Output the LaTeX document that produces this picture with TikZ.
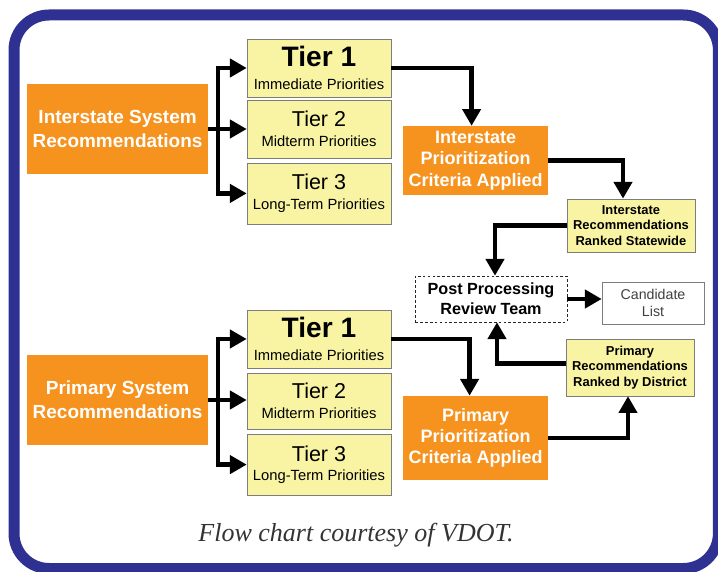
\documentclass[tikz,border=0pt]{standalone}
\usepackage{fontspec}
\setmainfont{Liberation Sans}
\newfontfamily\captionserif{Liberation Serif}
\usetikzlibrary{arrows.meta}
\definecolor{vdotorange}{RGB}{246,146,30}
\definecolor{vdotyellow}{RGB}{249,244,164}
\definecolor{vdotblue}{RGB}{46,49,146}
\definecolor{boxgray}{RGB}{125,125,125}

\begin{document}
\begin{tikzpicture}[
	sysbox/.style={fill=vdotorange,text=white,align=center,inner sep=0pt,minimum width=4.525cm,minimum height=2.25cm,font={\fontsize{13.5}{17}\selectfont\bfseries}},
	tierbox/.style={draw=boxgray,fill=vdotyellow,align=center,inner sep=0pt,minimum width=3.6cm,minimum height=1.45cm,font={\fontsize{10.5}{14}\selectfont}},
	priobox/.style={fill=vdotorange,text=white,align=center,inner sep=0pt,minimum width=3.625cm,font={\fontsize{12.8}{15}\selectfont\bfseries}},
	rankbox/.style={draw=boxgray,fill=vdotyellow,align=center,inner sep=0pt,minimum width=3.2cm,font={\fontsize{9.2}{11}\selectfont\bfseries}},
	flowline/.style={line width=3.5pt},
	flowarrow/.style={line width=3.5pt,-{Triangle[length=0.42cm,width=0.45cm]}}
	]

				\useasboundingbox (0,0) rectangle (17.95,14.275);
				\draw[vdotblue,line width=0.275cm,rounded corners=0.875cm] (0.35,0.0625) rectangle (17.96,13.9);

				\node[sysbox] (isys) at (2.94,11.05) {Interstate System\\Recommendations};
				\node[tierbox] (itier1) at (7.975,12.575) {{\fontsize{20}{16}\selectfont\bfseries Tier 1}\\[2pt]Immediate Priorities};
				\node[tierbox] (itier2) at (7.975,11.05) {{\fontsize{15.3}{14}\selectfont Tier 2}\\Midterm Priorities};
				\node[tierbox,minimum height=1.525cm] (itier3) at (7.975,9.44) {{\fontsize{15.3}{14}\selectfont Tier 3}\\Long-Term Priorities};

				\node[priobox,minimum height=1.725cm] (iprio) at (11.89,10.26) {Interstate\\Prioritization\\Criteria Applied};
				\node[rankbox,minimum height=1.325cm] (irank) at (15.775,8.64) {Interstate\\Recommendations\\Ranked Statewide};

				\node[draw=black!85,dash pattern=on 2pt off 1.5pt,fill=white,align=center,inner sep=0pt,minimum width=3.8cm,minimum height=1.15cm,font={\fontsize{11.5}{14}\selectfont\bfseries}] (post) at (12.275,6.8) {Post Processing\\Review Team};
				\node[draw=boxgray,fill=white,text=black!75,align=center,inner sep=0pt,minimum width=2.55cm,minimum height=1.05cm,font={\fontsize{10.1}{12}\selectfont}] (cand) at (16.325,6.7) {Candidate\\List};

				\node[rankbox,minimum height=1.425cm] (prank) at (15.75,5.09) {Primary\\Recommendations\\Ranked by District};
				\node[priobox,minimum height=2.1cm] (pprio) at (11.89,3.325) {Primary\\Prioritization\\Criteria Applied};

				\node[sysbox] (psys) at (2.94,4.275) {Primary System\\Recommendations};
				\node[tierbox] (ptier1) at (7.975,5.8) {{\fontsize{20}{16}\selectfont\bfseries Tier 1}\\[2pt]Immediate Priorities};
				\node[tierbox,minimum height=1.4cm] (ptier2) at (7.975,4.25) {{\fontsize{15.3}{14}\selectfont Tier 2}\\Midterm Priorities};
				\node[tierbox,minimum height=1.525cm] (ptier3) at (7.975,2.66) {{\fontsize{15.3}{14}\selectfont Tier 3}\\Long-Term Priorities};

				\node[text=black!80,font={\fontsize{18.5}{22}\selectfont\captionserif\itshape}] (caption) at (8.9,0.9) {Flow chart courtesy of VDOT.};

				\coordinate (isplit) at (5.45,11.05);
				\coordinate (psplit) at (5.45,4.275);

				\draw[flowarrow] (isys.east) -- (isys.east -| itier2.west);
				\draw[flowarrow] (isplit) |- (itier1.west);
				\draw[flowarrow] (isplit) |- (itier3.west);
				\draw[flowarrow] (itier1.east) -| ([xshift=-0.1cm]iprio.north);
				\draw[flowarrow] (iprio.east) -| ([xshift=-0.2cm]irank.north);
				\draw[flowarrow] (irank.west) -| ([xshift=0.1cm]post.north);
				\draw[flowarrow] (post.east) -- (post.east -| cand.west);

				\draw[flowarrow] (psys.east) -- (psys.east -| ptier2.west);
				\draw[flowarrow] (psplit) |- (ptier1.west);
				\draw[flowarrow] (psplit) |- (ptier3.west);
				\draw[flowarrow] (ptier1.east) -| ([xshift=-0.15cm]pprio.north);
				\draw[flowarrow] (pprio.east) -| ([xshift=-0.05cm]prank.south);
				\draw[flowarrow] ([yshift=0.1cm]prank.west) -| ([xshift=0.15cm]post.south);

\end{tikzpicture}
\end{document}
